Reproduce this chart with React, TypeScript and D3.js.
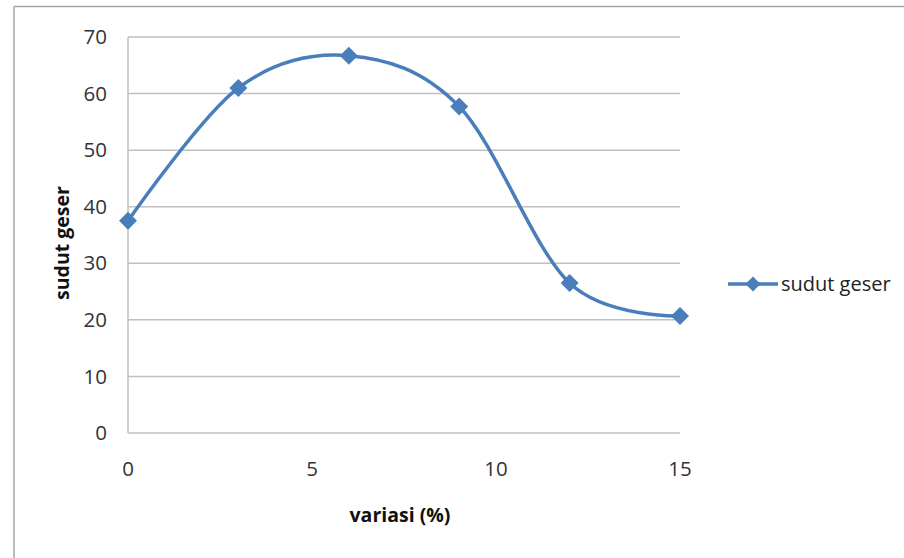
import React from "react";
import * as d3 from "d3";

const xValues = [0, 3, 6, 9, 12, 15];
const yValues = [37.5, 61, 66.7, 57.7, 26.5, 20.7];
const xTicks = [0, 5, 10, 15];
const yTicks = [0, 10, 20, 30, 40, 50, 60, 70];
const seriesName = "sudut geser";
const xTitle = "variasi (%)";
const yTitle = "sudut geser";

const W = 904;
const H = 558;
const color = "#4A7EBB";
const font = "'Open Sans', 'Noto Sans', sans-serif";

export default function App() {
  const x = d3.scaleLinear().domain([0, 15]).range([128, 680]);
  const y = d3.scaleLinear().domain([0, 70]).range([433, 37]);
  const pts: [number, number][] = xValues.map((v, i) => [x(v), y(yValues[i])]);
  const line = d3.line().curve(d3.curveCatmullRom.alpha(0))(pts) || "";
  const diamond = (cx: number, cy: number, r: number) =>
    `M${cx},${cy - r}L${cx + r},${cy}L${cx},${cy + r}L${cx - r},${cy}Z`;

  return (
    <svg
      width={W}
      height={H}
      style={{ position: "absolute", left: 0, top: 0, background: "#fff" }}
    >
      <rect x={0} y={0} width={W} height={H} fill="#fff" />
      {/* outer chart border */}
      <line x1={14} y1={6.5} x2={W} y2={6.5} stroke="#a6a6a6" strokeWidth={1.5} />
      <line x1={14} y1={6.5} x2={14} y2={H} stroke="#a6a6a6" strokeWidth={1.5} />

      {/* gridlines */}
      {yTicks.map((t) => (
        <line
          key={t}
          x1={128}
          x2={680}
          y1={y(t)}
          y2={y(t)}
          stroke="#c0c0c0"
          strokeWidth={1.5}
        />
      ))}
      <line x1={128} x2={128} y1={y(70)} y2={y(0)} stroke="#c0c0c0" strokeWidth={1.5} />

      {/* y tick labels */}
      {yTicks.map((t) => (
        <text
          key={t}
          x={107}
          y={y(t)}
          dy="0.35em"
          textAnchor="end"
          fontFamily={font}
          fontSize={20.5}
          fill="#333"
        >
          {t}
        </text>
      ))}
      {/* x tick labels */}
      {xTicks.map((t) => (
        <text
          key={t}
          x={x(t)}
          y={469}
          dy="0.35em"
          textAnchor="middle"
          fontFamily={font}
          fontSize={20.5}
          fill="#333"
        >
          {t}
        </text>
      ))}

      {/* axis titles */}
      <text
        x={400}
        y={515}
        dy="0.35em"
        textAnchor="middle"
        fontFamily={font}
        fontSize={19.5}
        fontWeight="bold"
        fill="#111"
      >
        {xTitle}
      </text>
      <text
        transform={`translate(62,243) rotate(-90)`}
        dy="0.35em"
        textAnchor="middle"
        fontFamily={font}
        fontSize={19.5}
        fontWeight="bold"
        fill="#111"
      >
        {yTitle}
      </text>

      {/* series */}
      <path d={line} fill="none" stroke={color} strokeWidth={3.5} />
      {pts.map(([cx, cy], i) => (
        <path key={i} d={diamond(cx, cy, 9)} fill={color} />
      ))}

      {/* legend */}
      <line x1={728} x2={778} y1={284} y2={284} stroke={color} strokeWidth={3.5} />
      <path d={diamond(753, 284, 7.5)} fill={color} />
      <text
        x={781}
        y={284}
        dy="0.35em"
        fontFamily={font}
        fontSize={20}
        fill="#222"
      >
        {seriesName}
      </text>
    </svg>
  );
}
